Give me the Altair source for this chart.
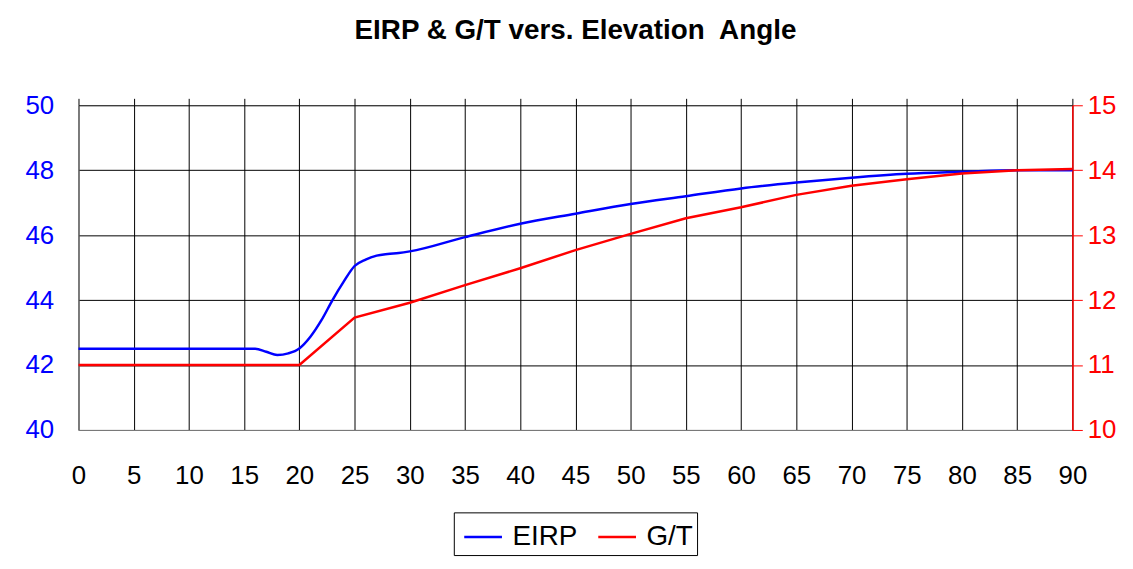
import altair as alt
import pandas as pd

# ---- data ----
angles_eirp = [0, 5, 10, 15, 16, 17, 18, 19, 20, 21, 22, 23, 24, 25, 26, 27, 28, 29, 30,
               35, 40, 45, 50, 55, 60, 65, 70, 75, 80, 85, 90]
eirp = [42.5, 42.5, 42.5, 42.5, 42.5, 42.41, 42.31, 42.36, 42.51, 42.87, 43.38, 44.0, 44.56,
        45.05, 45.25, 45.37, 45.42, 45.45, 45.5, 45.94, 46.35, 46.66, 46.96, 47.2, 47.44,
        47.62, 47.77, 47.89, 47.95, 48.0, 48.0]

angles_gt = [0, 5, 10, 15, 20, 25, 30, 35, 40, 45, 50, 55, 60, 65, 70, 75, 80, 85, 90]
gt = [11.0, 11.0, 11.0, 11.0, 11.0, 11.73, 11.96, 12.23, 12.49, 12.77, 13.02, 13.26, 13.43,
      13.62, 13.76, 13.86, 13.95, 14.0, 14.02]

series_names = ["EIRP", "G/T"]
series_colors = ["#0000ff", "#ff0000"]
x_ticks = list(range(0, 95, 5))
left_ticks = [40, 42, 44, 46, 48, 50]
right_ticks = [10, 11, 12, 13, 14, 15]
title_text = "EIRP & G/T vers. Elevation\u00a0 Angle"

df_e = pd.DataFrame({"angle": angles_eirp, "value": eirp, "series": series_names[0]})
df_g = pd.DataFrame({"angle": angles_gt, "value": gt, "series": series_names[1]})

FONT = "Liberation Sans"

color = alt.Color(
    "series:N",
    scale=alt.Scale(domain=series_names, range=series_colors),
    legend=alt.Legend(
        title=None, orient="none", legendX=378, legendY=410, direction="horizontal",
        symbolType="stroke", symbolSize=1444, symbolStrokeWidth=2.5,
        labelFont=FONT, labelFontSize=28, labelColor="black", labelOffset=9,
        columnPadding=14, padding=4, strokeColor="black", fillColor="white",
        symbolOffset=5,
    ),
)

xscale = alt.Scale(domain=[0, 90], nice=False)

eirp_line = alt.Chart(df_e).mark_line(interpolate="monotone", strokeWidth=2.5).encode(
    x=alt.X("angle:Q", scale=xscale, axis=alt.Axis(
        values=x_ticks, title=None, orient="bottom", grid=True, gridColor="black",
        gridWidth=1, gridOpacity=1, ticks=False, tickSize=0, labelPadding=33,
        labelFont=FONT, labelFontSize=26, labelColor="black", domainColor="#808080",
        domainWidth=1, labelFlush=False)),
    y=alt.Y("value:Q", scale=alt.Scale(domain=[40, 50], nice=False), axis=alt.Axis(
        values=left_ticks, title=None, orient="left", grid=True, gridColor="black",
        gridWidth=1, gridOpacity=1, ticks=False, tickSize=0, labelPadding=25,
        labelFont=FONT, labelFontSize=26, labelColor="#0000ff", domainColor="#808080",
        labelFlush=False)),
    color=color,
)

gt_line = alt.Chart(df_g).mark_line(strokeWidth=2.5).encode(
    x=alt.X("angle:Q", scale=xscale, axis=alt.Axis(
        values=x_ticks, title=None, orient="top", grid=False, labels=False,
        ticks=True, tickSize=7, tickColor="black", domain=False)),
    y=alt.Y("value:Q", scale=alt.Scale(domain=[10, 15], nice=False), axis=alt.Axis(
        values=right_ticks, title=None, orient="right", grid=False, ticks=True,
        tickSize=10, tickColor="#ff0000", tickWidth=1, labelPadding=5,
        labelFont=FONT, labelFontSize=26, labelColor="#ff0000",
        domainColor="#ff0000", domainWidth=1.5, labelFlush=False)),
    color=color,
)

chart = alt.layer(eirp_line, gt_line).resolve_scale(
    y="independent"
).resolve_axis(
    x="independent"
).properties(
    width=1001,
    height=327,
    padding={"left": 71, "top": 96, "right": 53, "bottom": 130},
    autosize=alt.AutoSizeParams(type="none"),
    title=alt.TitleParams(title_text, font=FONT, fontSize=28, fontWeight="bold",
                          color="black", anchor="middle", offset=48),
).configure_view(stroke=None).configure(background="white")

chart.save("out.html", embed_options={"renderer": "svg", "actions": False})
